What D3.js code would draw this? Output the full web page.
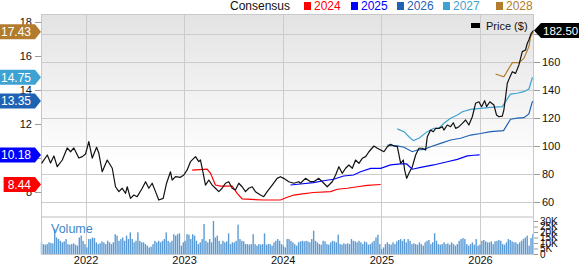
<!DOCTYPE html>
<html>
<head>
<meta charset="utf-8">
<script src="https://cdn.jsdelivr.net/npm/d3@7"></script>
<style>
  body { margin: 0; background: #fff; }
  text { font-family: Arial, "Liberation Sans", sans-serif; }
</style>
</head>
<body>
<div id="chart"></div>
<script>
const svgWidth = 579;
const svgHeight = 264;

// plot frame
const left = 41, right = 534;
const priceTop = 14, priceBottom = 216;
const volTop = 218, volBottom = 254;

// price, [decimal year, $]
const priceData = [
  [2021.554, 87.6], [2021.612, 93.6], [2021.645, 87.9], [2021.679, 92.9], [2021.713, 85.2],
  [2021.764, 90.0], [2021.814, 98.6], [2021.848, 95.9], [2021.881, 98.6], [2021.932, 91.4],
  [2021.967, 92.4], [2022.0, 94.3], [2022.033, 103.1], [2022.068, 91.4], [2022.112, 99.1],
  [2022.135, 94.8], [2022.169, 81.6], [2022.220, 90.0], [2022.271, 84.1], [2022.304, 70.9],
  [2022.338, 67.4], [2022.372, 69.8], [2022.406, 66.2], [2022.423, 70.9], [2022.456, 62.6],
  [2022.490, 65.0], [2022.524, 63.8], [2022.575, 69.8], [2022.609, 74.5], [2022.642, 69.8],
  [2022.676, 73.4], [2022.710, 67.4], [2022.743, 61.4], [2022.788, 62.6], [2022.822, 73.4],
  [2022.862, 81.6], [2022.879, 75.7], [2022.913, 78.1], [2022.963, 77.6], [2022.997, 79.3],
  [2023.031, 82.9], [2023.065, 88.8], [2023.116, 92.4], [2023.149, 88.8], [2023.166, 90.0],
  [2023.184, 84.1], [2023.217, 72.1], [2023.251, 75.7], [2023.285, 72.1], [2023.318, 69.8],
  [2023.352, 67.4], [2023.386, 69.8], [2023.420, 73.4], [2023.453, 74.5], [2023.488, 69.8],
  [2023.521, 68.6], [2023.555, 73.4], [2023.589, 70.9], [2023.623, 67.4], [2023.656, 69.8],
  [2023.691, 70.9], [2023.724, 67.4], [2023.775, 65.0], [2023.808, 63.8], [2023.843, 67.4],
  [2023.894, 72.1], [2023.944, 76.9], [2023.978, 78.1], [2024.011, 76.9], [2024.062, 74.5],
  [2024.113, 73.4], [2024.163, 74.5], [2024.181, 73.4], [2024.231, 76.9], [2024.282, 74.5],
  [2024.315, 74.5], [2024.366, 76.9], [2024.417, 73.4], [2024.451, 70.9], [2024.502, 74.5],
  [2024.536, 79.3], [2024.569, 85.2], [2024.603, 80.5], [2024.637, 84.1], [2024.670, 86.4],
  [2024.705, 84.1], [2024.738, 90.0], [2024.772, 87.6], [2024.806, 91.2], [2024.840, 92.4],
  [2024.873, 95.9], [2024.924, 100.0], [2024.958, 98.4], [2024.992, 97.1], [2025.025, 95.9],
  [2025.060, 99.5], [2025.093, 101.2], [2025.127, 100.0], [2025.161, 99.5], [2025.195, 87.6],
  [2025.222, 90.0], [2025.235, 82.9], [2025.256, 76.9], [2025.279, 80.5], [2025.313, 85.2],
  [2025.347, 93.6], [2025.380, 98.4], [2025.415, 98.4], [2025.448, 97.1], [2025.465, 106.6],
  [2025.499, 111.4], [2025.526, 110.2], [2025.550, 112.6], [2025.583, 112.6], [2025.618, 113.8],
  [2025.634, 111.4], [2025.668, 115.0], [2025.702, 113.8], [2025.729, 116.6], [2025.753, 112.6],
  [2025.786, 113.8], [2025.821, 116.2], [2025.854, 118.6], [2025.887, 115.0], [2025.922, 120.9],
  [2025.955, 130.5], [2025.989, 131.6], [2026.016, 128.1], [2026.047, 132.4], [2026.067, 128.1],
  [2026.100, 131.6], [2026.141, 129.3], [2026.168, 122.1], [2026.192, 120.9], [2026.226, 121.4],
  [2026.242, 125.7], [2026.260, 135.2], [2026.277, 144.8], [2026.293, 147.6], [2026.328, 153.1],
  [2026.361, 151.9], [2026.395, 157.9], [2026.429, 167.4], [2026.462, 168.6], [2026.480, 173.4],
  [2026.496, 175.7], [2026.520, 180.5], [2026.541, 182.5]
];

// EPS consensus per fiscal year, [decimal year, EPS]
const eps2024 = [
  [2023.082, 9.29], [2023.234, 9.35], [2023.268, 9.10], [2023.318, 8.41], [2023.369, 8.35],
  [2023.488, 8.35], [2023.539, 7.92], [2023.589, 7.59], [2023.808, 7.53], [2023.978, 7.53],
  [2024.046, 7.69], [2024.113, 7.82], [2024.181, 7.88], [2024.312, 7.97], [2024.485, 8.02],
  [2024.553, 8.16], [2024.654, 8.22], [2024.756, 8.31], [2024.857, 8.39], [2024.992, 8.44]
];
const eps2025 = [
  [2024.079, 8.41], [2024.181, 8.47], [2024.312, 8.55], [2024.414, 8.66], [2024.515, 8.75],
  [2024.617, 8.94], [2024.718, 9.00], [2024.789, 9.19], [2024.891, 9.39], [2024.992, 9.39],
  [2025.093, 9.59], [2025.195, 9.65], [2025.256, 9.65], [2025.313, 9.34], [2025.398, 9.45],
  [2025.529, 9.59], [2025.668, 9.78], [2025.770, 9.92], [2025.871, 10.12], [2025.935, 10.16],
  [2025.996, 10.18]
];
const eps2026 = [
  [2025.060, 10.76], [2025.161, 10.71], [2025.228, 10.63], [2025.313, 10.37], [2025.364, 10.47],
  [2025.431, 10.51], [2025.499, 10.66], [2025.600, 10.86], [2025.702, 11.06], [2025.803, 11.16],
  [2025.905, 11.35], [2026.006, 11.44], [2026.108, 11.55], [2026.239, 11.61], [2026.310, 12.28],
  [2026.378, 12.34], [2026.445, 12.37], [2026.496, 12.59], [2026.533, 13.35]
];
const eps2027 = [
  [2025.161, 11.71], [2025.228, 11.55], [2025.279, 11.25], [2025.324, 11.02], [2025.380, 11.16],
  [2025.465, 11.55], [2025.532, 11.75], [2025.583, 11.75], [2025.634, 12.04], [2025.702, 12.34],
  [2025.770, 12.53], [2025.821, 12.72], [2025.905, 12.86], [2026.006, 12.92], [2026.108, 12.98],
  [2026.226, 13.02], [2026.310, 13.76], [2026.378, 13.81], [2026.445, 13.90], [2026.496, 14.06],
  [2026.533, 14.75]
];
const eps2028 = [
  [2026.158, 14.94], [2026.242, 14.78], [2026.328, 15.61], [2026.395, 15.61], [2026.445, 15.86],
  [2026.496, 16.55], [2026.513, 17.14], [2026.541, 17.43]
];

// weekly volume (K), starting 2021-07-20
const volume = [
  10.6, 9, 8.5, 9, 10.6, 10, 9.7, 22.7, 15, 13.6,
  12, 10.6, 11.5, 13.6, 9, 8.5, 9, 9.7, 8.5, 7.6,
  15, 16.7, 12, 9, 6, 13.6, 13.6, 15, 14.5, 10.6,
  9, 9.7, 11.5, 10.6, 9, 12, 10.6, 9, 10.6, 18,
  16.7, 12, 13.6, 15, 12, 16.7, 13.6, 19.7, 13.6, 10.6,
  12, 19.7, 12, 10.6, 10.6, 9, 7.6, 6, 6.7, 9,
  12, 10.6, 12, 10.6, 12, 13.6, 19.7, 12, 10.6, 12,
  18, 16.7, 18, 18.8, 7.6, 10.6, 12, 18, 17.6, 13.6,
  18, 16.7, 12, 9, 10.6, 13.6, 27.3, 12, 10.6, 13.6,
  10.6, 30, 15, 16.7, 12, 9, 12, 10.6, 11.5, 18.8,
  9, 10.6, 10.6, 12, 26.7, 13.6, 12, 11.5, 9, 9,
  8.5, 9, 18, 9, 7.6, 9, 8.5, 9, 18.8, 8.5,
  9, 9, 7.6, 10.6, 12, 13.6, 12, 9, 7.6, 6,
  13.6, 13.6, 12, 10.6, 9, 7.6, 10.6, 11.5, 12, 11.5,
  12, 11.5, 10.6, 13.6, 21.2, 12, 10.6, 9, 8.5, 12,
  11.5, 9, 8.5, 10.6, 12, 11.5, 10.6, 17.6, 9, 8.5,
  9.7, 9, 9.7, 9, 13.6, 12, 11.5, 10.6, 12, 10.6,
  9, 11.5, 10.6, 8.5, 9, 10.6, 12, 15, 17.6, 9,
  4.5, 6, 9, 10.6, 9, 8.5, 10.6, 9, 11.5, 12.7,
  13.6, 12, 13.6, 10.6, 13.6, 12, 9, 9.7, 9, 8.5,
  10.6, 9, 7.6, 10.6, 12, 12.7, 9, 10.6, 18.8, 12,
  9, 8.5, 9, 10.6, 9, 9.7, 8.5, 10.6, 9, 7.6,
  9, 12, 13.6, 14.5, 13.6, 9, 7.6, 9, 10.6, 8.5,
  13.6, 7.6, 8.5, 12, 12.7, 11.5, 10.6, 10.6, 11.5, 9,
  11.5, 12, 12.7, 12, 9, 8.5, 10.6, 13.6, 12.7, 11.5,
  10.6, 10.6, 9, 10.6, 12, 13.6, 15, 16.7, 7.6, 14.5,
  18
];

const priceTicks = [60, 80, 100, 120, 140, 160, 180];
const epsTicks = [8, 10, 12, 14, 16, 18];
const volTicks = [0, 5, 10, 15, 20, 25, 30];
const yearTicks = [2022, 2023, 2024, 2025, 2026];

const series = [
  {name: "2024", data: eps2024, color: "#ff0000"},
  {name: "2025", data: eps2025, color: "#0000ff"},
  {name: "2026", data: eps2026, color: "#1f62b4"},
  {name: "2027", data: eps2027, color: "#3ea2d2"},
  {name: "2028", data: eps2028, color: "#b27c2e"}
];
const lastPrice = 182.50;

function yr(t) {
  const y = Math.floor(t);
  const a = new Date(y, 0, 1), b = new Date(y + 1, 0, 1);
  return new Date(+a + (t - y) * (b - a));
}

const svg = d3.select("#chart").append("svg")
  .attr("width", svgWidth)
  .attr("height", svgHeight);

const x = d3.scaleTime()
  .domain([new Date(2021, 6, 20), new Date(2026, 6, 20)])
  .range([left, right]);
const yPrice = d3.scaleLinear().domain([50, 194.3]).range([priceBottom, priceTop]);
const yEps = d3.scaleLinear().domain([6.588, 18.47]).range([priceBottom, priceTop]);
const yVol = d3.scaleLinear().domain([0, 30]).range([volBottom, 221]);

// background gradient
const grad = svg.append("defs").append("linearGradient")
  .attr("id", "bg").attr("x1", 0).attr("y1", 0).attr("x2", 0).attr("y2", 1);
grad.append("stop").attr("offset", "0%").attr("stop-color", "#e3e3e3");
grad.append("stop").attr("offset", "75%").attr("stop-color", "#ffffff");

svg.append("rect")
  .attr("x", left).attr("y", priceTop)
  .attr("width", right - left).attr("height", priceBottom - priceTop)
  .attr("fill", "url(#bg)");
svg.append("rect")
  .attr("x", left).attr("y", priceBottom)
  .attr("width", right - left).attr("height", volTop - priceBottom)
  .attr("fill", "#dedede");

// gridlines
svg.append("g").selectAll("line").data(priceTicks).enter().append("line")
  .attr("x1", left).attr("x2", right)
  .attr("y1", d => Math.round(yPrice(d)) + 0.5).attr("y2", d => Math.round(yPrice(d)) + 0.5)
  .attr("stroke", "#cccccc");
svg.append("g").selectAll("line").data(yearTicks).enter().append("line")
  .attr("x1", d => Math.round(x(new Date(d, 0, 1))) + 0.5)
  .attr("x2", d => Math.round(x(new Date(d, 0, 1))) + 0.5)
  .attr("y1", priceTop).attr("y2", volBottom)
  .attr("stroke", "#cccccc");

// volume bars
svg.append("g").selectAll("rect").data(volume).enter().append("rect")
  .attr("x", (d, i) => x(d3.timeWeek.offset(new Date(2021, 6, 20), i)) - 0.2)
  .attr("y", d => yVol(d))
  .attr("width", 1.4)
  .attr("height", d => yVol(0) - yVol(d))
  .attr("fill", "#5b9bd5");

svg.append("text")
  .attr("x", 51).attr("y", 233)
  .attr("font-size", 12.5)
  .attr("fill", "#3d87c9")
  .text("Volume");

// frame
svg.append("rect")
  .attr("x", left + 0.5).attr("y", priceTop + 0.5)
  .attr("width", right - left - 1).attr("height", volBottom - priceTop)
  .attr("fill", "none").attr("stroke", "#c8c8c8");

// lines
const line = yScale => d3.line()
  .x(d => x(yr(d[0])))
  .y(d => yScale(d[1]));

series.forEach(s => {
  svg.append("path")
    .datum(s.data)
    .attr("fill", "none")
    .attr("stroke", s.color)
    .attr("stroke-width", 1.2)
    .attr("d", line(yEps));
});

svg.append("path")
  .datum(priceData)
  .attr("fill", "none")
  .attr("stroke", "#111")
  .attr("stroke-width", 1.2)
  .attr("stroke-linejoin", "round")
  .attr("d", line(yPrice));

// axes
function styleAxis(g) {
  g.select(".domain").remove();
  g.selectAll(".tick line").attr("stroke", "#999");
  g.selectAll(".tick text").attr("fill", "#111").attr("font-family", "Arial, 'Liberation Sans', sans-serif");
}

svg.append("g")
  .attr("transform", `translate(${left},0)`)
  .call(d3.axisLeft(yEps).tickValues(epsTicks).tickSize(6).tickPadding(3))
  .attr("font-size", 11)
  .call(styleAxis);

svg.append("g")
  .attr("transform", `translate(${right},0)`)
  .call(d3.axisRight(yPrice).tickValues(priceTicks).tickSize(6).tickPadding(2))
  .attr("font-size", 11)
  .call(styleAxis);

svg.append("g")
  .attr("transform", `translate(${right},0)`)
  .call(d3.axisRight(yVol).tickValues(volTicks).tickSize(4).tickPadding(2)
    .tickFormat(d => d === 0 ? "0" : d + "K"))
  .attr("font-size", 10)
  .call(styleAxis);

svg.append("g")
  .attr("transform", `translate(0,${volBottom})`)
  .call(d3.axisBottom(x).tickValues(yearTicks.map(d => new Date(d, 0, 1)))
    .tickSize(0).tickPadding(2).tickFormat(d3.timeFormat("%Y")))
  .attr("font-size", 11)
  .call(styleAxis);

// value tags on the left, sized to their text
series.forEach(s => {
  const v = s.data[s.data.length - 1][1];
  const cy = yEps(v);
  const tag = svg.append("path").attr("fill", s.color);
  const label = svg.append("text")
    .attr("x", 31).attr("y", cy + 4.3)
    .attr("text-anchor", "end")
    .attr("font-size", 12)
    .attr("fill", "#fff")
    .text(v.toFixed(2));
  const x0 = Math.max(0, 31 - label.node().getComputedTextLength() - 4);
  tag.attr("d", `M${x0},${cy - 7.5}L35,${cy - 7.5}L${left},${cy}L35,${cy + 7.5}L${x0},${cy + 7.5}Z`);
});

// price tag on the right
const py = yPrice(lastPrice);
svg.append("path")
  .attr("d", `M${right},${py}L${right + 7},${py - 7.5}L${svgWidth},${py - 7.5}L${svgWidth},${py + 7.5}L${right + 7},${py + 7.5}Z`)
  .attr("fill", "#000");
svg.append("text")
  .attr("x", 543).attr("y", py + 4)
  .attr("font-size", 11.5)
  .attr("fill", "#fff")
  .text(lastPrice.toFixed(2));

// price legend
svg.append("rect")
  .attr("x", 471).attr("y", 23).attr("width", 9).attr("height", 5)
  .attr("fill", "#000");
svg.append("text")
  .attr("x", 486).attr("y", 29.5)
  .attr("font-size", 11)
  .attr("fill", "#111")
  .text("Price ($)");

// consensus legend
svg.append("text")
  .attr("x", 230).attr("y", 10)
  .attr("font-size", 12)
  .attr("fill", "#111")
  .text("Consensus");
const legendX = [304, 351, 397, 443, 496];
series.forEach((s, i) => {
  svg.append("rect")
    .attr("x", legendX[i]).attr("y", 2).attr("width", 7).attr("height", 8)
    .attr("fill", s.color);
  svg.append("text")
    .attr("x", legendX[i] + 10).attr("y", 10)
    .attr("font-size", 12)
    .attr("fill", s.color)
    .text(s.name);
});
</script>
</body>
</html>
